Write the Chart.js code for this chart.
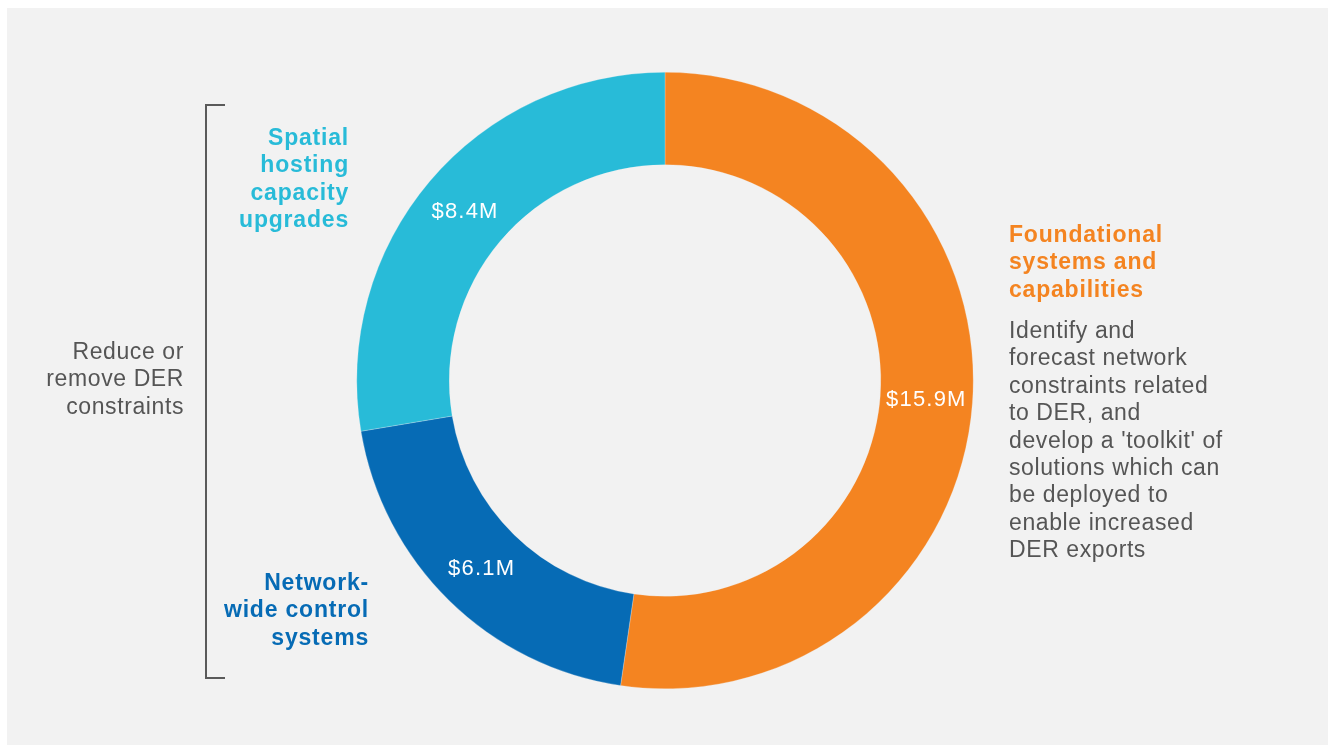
<!DOCTYPE html>
<html>
<head>
<meta charset="utf-8">
<title>DER constraints investment</title>
<script src="https://cdn.jsdelivr.net/npm/chart.js@4.4.1/dist/chart.umd.min.js"></script>
<style>
  html, body { margin: 0; padding: 0; background: #fff; }
  body {
    width: 1336px; height: 747px; position: relative; overflow: hidden;
    font-family: "Liberation Sans", Arial, sans-serif;
  }
  #panel { position: absolute; left: 7px; top: 8px; width: 1321px; height: 737px; background: #f2f2f2; }
  #wrap { position: absolute; left: 0; top: 0; width: 1336px; height: 747px; }
  .note {
    position: absolute; font-size: 23px; line-height: 27.3px; letter-spacing: 0.6px;
    color: #555555; white-space: nowrap;
  }
  .head { font-weight: bold; letter-spacing: 0.8px; }
  .right { text-align: right; }
  #bracket {
    position: absolute; left: 205px; top: 104px; width: 18px; height: 571px;
    border: 2px solid #5a5a5a; border-right: none;
  }
</style>
</head>
<body>
<div id="panel"></div>
<div id="wrap"><canvas id="donut"></canvas></div>

<div id="bracket"></div>
<div class="note right" style="right:1152px; top:338px;" id="groupNote"></div>

<div class="note head right" id="head2" style="right:987px; top:124px;"></div>
<div class="note head right" id="head1" style="right:967px; top:569px;"></div>
<div class="note head" id="head0" style="left:1009px; top:221px;"></div>
<div class="note" id="desc0" style="left:1009px; top:317px; line-height:27.4px;"></div>

<script>
// spend per program area, clockwise from 12 o'clock
const categories = [
  ['Foundational', 'systems and', 'capabilities'],
  ['Network-', 'wide control', 'systems'],
  ['Spatial', 'hosting', 'capacity', 'upgrades']
];
const values = [15.9, 6.1, 8.4];
const colors = ['#f48421', '#066bb5', '#28bbd8'];

const groupNote = ['Reduce or', 'remove DER', 'constraints'];
const foundationalNote = [
  'Identify and', 'forecast network', 'constraints related', 'to DER, and',
  "develop a 'toolkit' of", 'solutions which can', 'be deployed to',
  'enable increased', 'DER exports'
];

function fillLines(id, lines, color) {
  const el = document.getElementById(id);
  el.innerHTML = lines.join('<br>');
  if (color) el.style.color = color;
}

categories.forEach((lines, i) => fillLines('head' + i, lines, colors[i]));
fillLines('groupNote', groupNote);
fillLines('desc0', foundationalNote);

// writes "$x.xM" in the middle of each ring segment
const valueLabels = {
  id: 'valueLabels',
  afterDatasetsDraw(chart) {
    const ctx = chart.ctx;
    const meta = chart.getDatasetMeta(0);
    ctx.save();
    ctx.font = '22px "Liberation Sans", Arial, sans-serif';
    ctx.letterSpacing = '1.2px';
    ctx.fillStyle = '#ffffff';
    ctx.textAlign = 'center';
    ctx.textBaseline = 'middle';
    meta.data.forEach((arc, i) => {
      const pos = arc.tooltipPosition();
      ctx.fillText('$' + values[i].toFixed(1) + 'M', pos.x, pos.y + 1);
    });
    ctx.restore();
  }
};

const ctx = document.getElementById('donut').getContext('2d');
new Chart(ctx, {
  type: 'doughnut',
  data: {
    labels: categories,
    datasets: [{
      data: values,
      backgroundColor: colors,
      borderColor: 'rgba(242, 242, 242, 0.5)',
      borderWidth: 0.5,
      hoverOffset: 0
    }]
  },
  options: {
    responsive: true,
    maintainAspectRatio: false,
    animation: false,
    cutout: '70%',
    layout: {
      padding: { top: 72, bottom: 58, left: 356, right: 362 }
    },
    plugins: {
      legend: { display: false },
      tooltip: { enabled: false }
    },
    events: []
  },
  plugins: [valueLabels]
});
</script>
</body>
</html>
